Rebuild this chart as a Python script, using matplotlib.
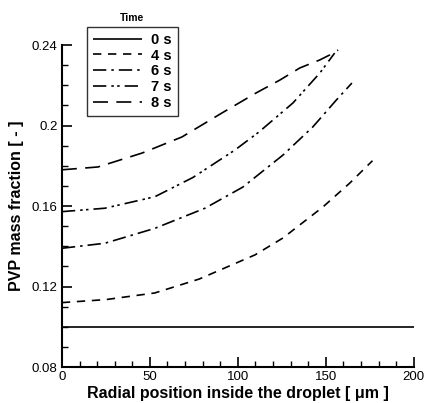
import matplotlib
matplotlib.use("Agg")
import matplotlib.pyplot as plt
from matplotlib.ticker import MultipleLocator, FuncFormatter

plt.rcParams['font.family'] = ['Liberation Sans', 'DejaVu Sans']

labels = ["0 s", "4 s", "6 s", "7 s", "8 s"]
x0 = [0, 200]
y0 = [0.100, 0.100]
x4 = [0, 25, 52.8, 78, 109.7, 125.6, 148.3, 163.6, 176.5]
y4 = [0.112, 0.1135, 0.1168, 0.1237, 0.1357, 0.1441, 0.1595, 0.1714, 0.1825]
x6 = [0, 24.4, 52.8, 81.3, 102.8, 125.6, 142.6, 156, 164.8]
y6 = [0.139, 0.1415, 0.1489, 0.1589, 0.1694, 0.1853, 0.1993, 0.2127, 0.2211]
x7 = [0, 24.4, 52.8, 74.5, 98.3, 112, 131.3, 146.6, 155]
y7 = [0.1572, 0.1589, 0.1646, 0.1742, 0.1878, 0.1968, 0.2112, 0.2261, 0.236]
x8 = [0, 20.5, 45.5, 68.2, 90.9, 110.2, 123.9, 135.2, 146.6, 152.3, 157]
y8 = [0.178, 0.1794, 0.1863, 0.1943, 0.2062, 0.2161, 0.2226, 0.2286, 0.2326, 0.2351, 0.2375]

fig = plt.figure(figsize=(4.24, 4.03), dpi=100)
ax = fig.add_axes([0.146, 0.0893, 0.830, 0.799])

lw = 1.2
styles = [
    (0, ()),
    (0, (5, 4)),
    (0, (8, 3, 1.5, 3)),
    (0, (8, 3, 1.5, 2, 1.5, 3)),
    (0, (9, 5)),
]
xs = [x0, x4, x6, x7, x8]
ys = [y0, y4, y6, y7, y8]
handles = []
for x, y, ls, lab in zip(xs, ys, styles, labels):
    h, = ax.plot(x, y, color='black', lw=lw, linestyle=ls, label=lab)
    handles.append(h)

ax.set_xlim(0, 200)
ax.set_ylim(0.08, 0.24)
ax.xaxis.set_major_locator(MultipleLocator(50))
ax.xaxis.set_minor_locator(MultipleLocator(10))
ax.yaxis.set_major_locator(MultipleLocator(0.04))
ax.yaxis.set_minor_locator(MultipleLocator(0.01))
ax.yaxis.set_major_formatter(FuncFormatter(lambda v, p: ('%.2f' % v).rstrip('0').rstrip('.')))
ax.tick_params(which='major', direction='in', length=7, width=1.2, labelsize=9.5, pad=3)
ax.tick_params(which='minor', direction='in', length=4, width=1.0)
for s in ['top', 'right']:
    ax.spines[s].set_visible(False)
for s in ['left', 'bottom']:
    ax.spines[s].set_linewidth(1.5)

ax.set_xlabel("Radial position inside the droplet [ μm ]", fontsize=11.5, fontweight='bold', labelpad=2)
ax.set_ylabel("PVP mass fraction [ - ]", fontsize=11.5, fontweight='bold', labelpad=6)

leg = fig.legend(handles=handles, labels=labels, loc='upper left',
                 bbox_to_anchor=(0.205, 0.933), frameon=True, fancybox=False,
                 prop={'weight': 'bold', 'size': 10.5}, handlelength=3.4,
                 labelspacing=0.12, borderpad=0.4, handletextpad=0.6,
                 borderaxespad=0)
leg.get_frame().set_edgecolor('black')
leg.get_frame().set_linewidth(1.0)
fig.text(132 / 424, 1 - 18 / 403, "Time", fontsize=7.5, fontweight='bold', ha='center', va='center')

fig.savefig("out.png", dpi=100)
